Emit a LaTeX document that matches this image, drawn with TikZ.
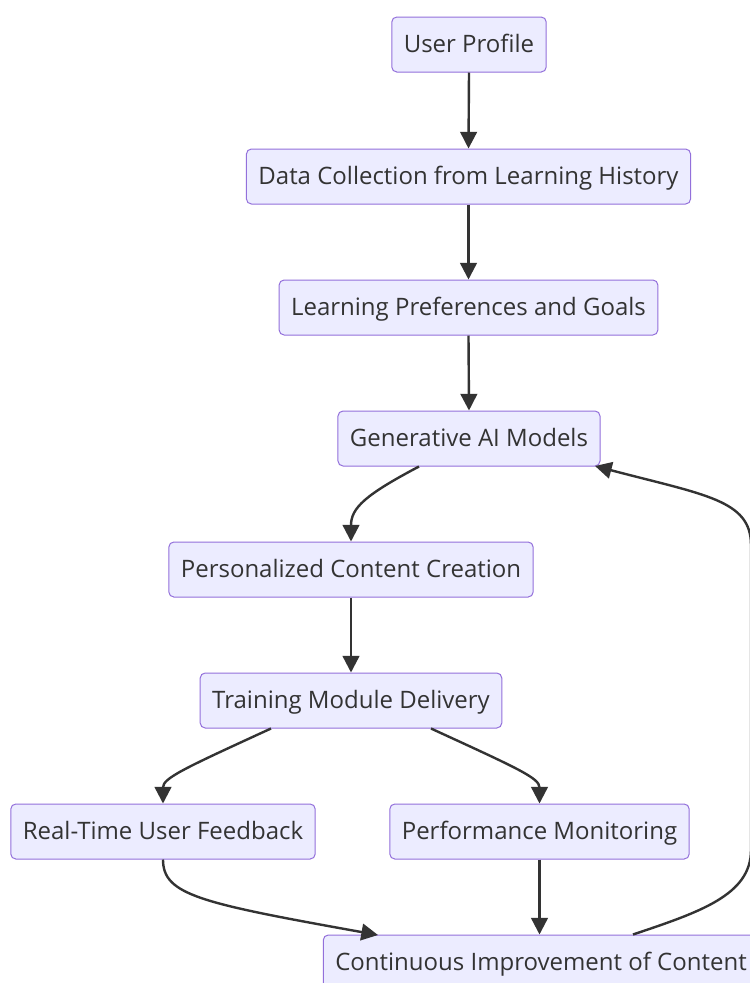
\documentclass[tikz,border=0pt]{standalone}
\usepackage{fontspec}
\setmainfont{Open Sans}
\usetikzlibrary{arrows.meta}
\definecolor{nodefill}{HTML}{ECECFF}
\definecolor{nodeline}{HTML}{9370DB}
\definecolor{ink}{HTML}{333333}
\begin{document}
\begin{tikzpicture}[x=0.75pt,y=-0.75pt,
  box/.style={draw=nodeline,fill=nodefill,line width=0.75pt,rounded corners=3.75pt,
    minimum height=41.25pt,inner xsep=9pt,inner ysep=0pt,text height=14pt,text depth=2pt,
    text=ink,font=\fontsize{18pt}{22pt}\selectfont},
  link/.style={draw=ink,line width=1.8pt,-{Triangle[length=12.5pt,width=12.5pt]}}]
\useasboundingbox (0,0) rectangle (750,983);
\fill[white] (0,0) rectangle (750,983);
\node[box] (up) at (469,44.5) {User Profile};
\node[box] (dc) at (468.5,176.5) {Data Collection from Learning History};
\node[box] (lp) at (468.5,307.5) {Learning Preferences and Goals};
\node[box] (ga) at (469,438.5) {Generative AI Models};
\node[box] (pc) at (351,569.5) {Personalized Content Creation};
\node[box] (tm) at (351,700.5) {Training Module Delivery};
\node[box] (rt) at (163,831.5) {Real-Time User Feedback};
\node[box] (pm) at (539.5,831.5) {Performance Monitoring};
\node[box] (ci) at (541,962.5) {Continuous Improvement of Content};

\draw[link] (up.south) -- (dc.north);
\draw[link] (dc.south) -- (lp.north);
\draw[link] (lp.south) -- (ga.north);
\draw[link] (ga.south -| 419,0) .. controls (365,495) and (351,508) .. (pc.north);
\draw[link] (pc.south) -- (tm.north);
\draw[link] (tm.south -| 271,0) .. controls (185,768) and (163,778) .. (rt.north);
\draw[link] (tm.south -| 431,0) .. controls (517,768) and (539.5,778) .. (pm.north);
\draw[link] (rt.south) .. controls (163,895) and (200,903) .. (378,935);
\draw[link] (pm.south) -- (pm.south |- ci.north);
\draw[link] (ci.north -| 633,0) .. controls (700,912) and (751,895) .. (751,850) -- (751,545) .. controls (751,500) and (705,495) .. (595,466);
\end{tikzpicture}
\end{document}
